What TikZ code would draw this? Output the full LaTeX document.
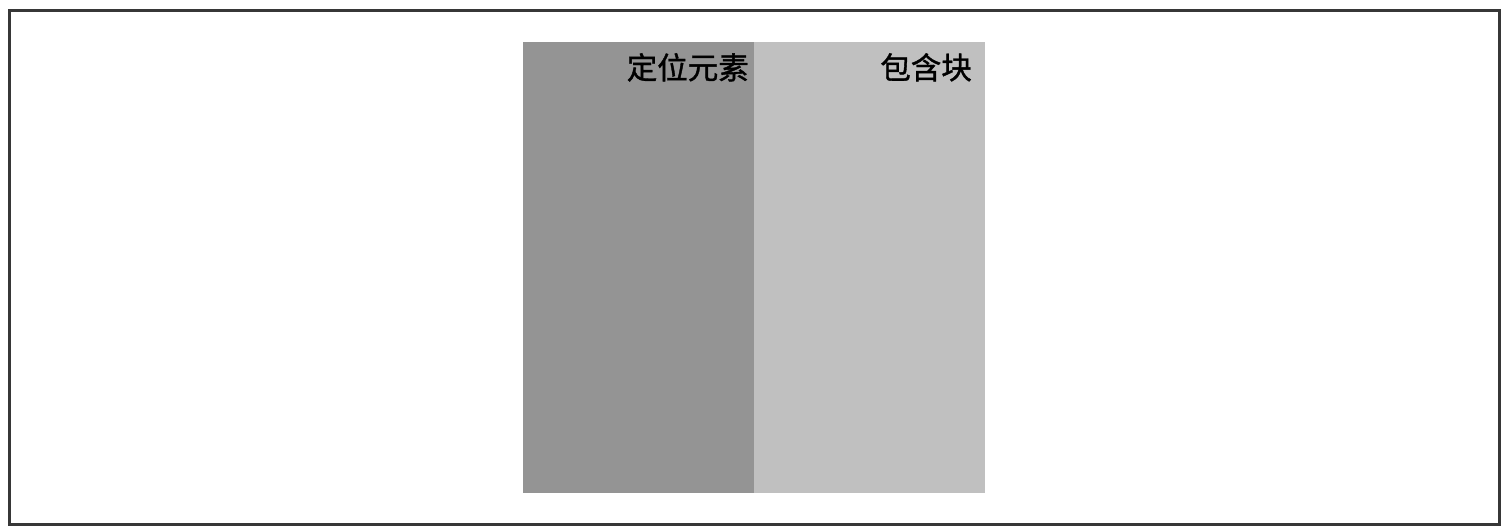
\documentclass[tikz,border=0pt]{standalone}
\usepackage{fontspec}
\newfontfamily\cjk[FakeBold=1.2]{Noto Sans CJK SC}
\definecolor{darkblock}{RGB}{148,148,148}
\definecolor{lightblock}{RGB}{192,192,192}
\definecolor{framecol}{RGB}{55,55,55}
\begin{document}
\begin{tikzpicture}[x=1pt,y=-1pt,
  blockbox/.style={inner sep=0pt,outer sep=0pt,draw=none},
  blocklabel/.style={font=\cjk\fontsize{30.5}{31}\selectfont,inner sep=0pt,anchor=north east,text=black}]
\useasboundingbox (0,0) rectangle (1502,527);
\fill[white] (0,0) rectangle (1502,527);
\draw[framecol,line width=3pt] (9,11) rectangle (1499,524);
\fill[darkblock] (523,42) rectangle (754,493);
\fill[lightblock] (754,42) rectangle (985,493);
\node[blocklabel] (pos) at (749,53) {定位元素};
\node[blocklabel] (cont) at (972,53) {包含块};
\end{tikzpicture}
\end{document}
